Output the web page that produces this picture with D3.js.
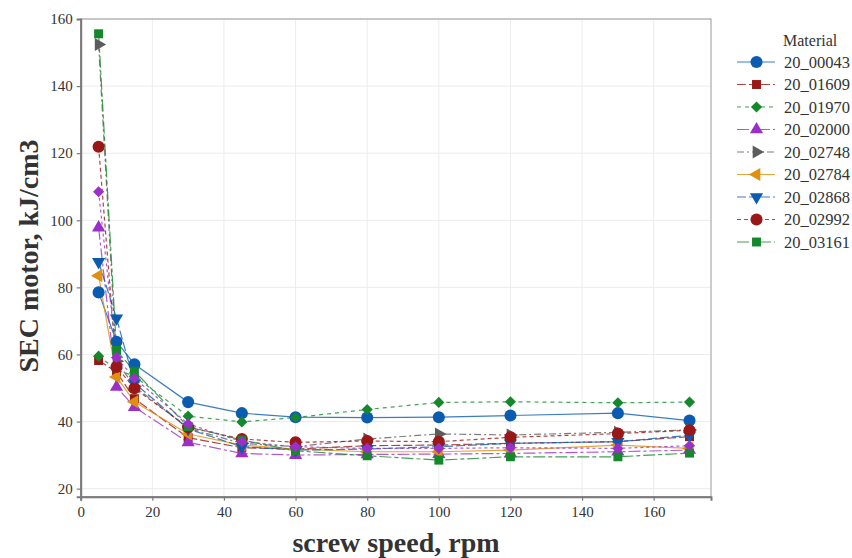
<!DOCTYPE html>
<html>
<head>
<meta charset="utf-8">
<script src="https://cdn.jsdelivr.net/npm/d3@7"></script>
<style>
  body { margin: 0; background: #fff; }
  svg text { font-family: "Liberation Serif", "Times New Roman", serif !important; }
</style>
</head>
<body>
<div id="chart"></div>
<script>
// screw speed values (x)
var speeds = [5, 10, 15, 30, 45, 60, 80, 100, 120, 150, 170];

// materials shown in the legend
var materials = ["20_00043", "20_01609", "20_01970", "20_02000", "20_02748",
                 "20_02784", "20_02868", "20_02992", "20_03161"];

// SEC motor values, kJ/cm3, one array per material
var s00043 = [78.5, 63.8, 57.1, 45.8, 42.5, 41.3, 41.2, 41.3, 41.8, 42.5, 40.3];
var s01609 = [58.2, 54.8, 46.8, 35.2, 32.2, 31.8, 32.8, 33.0, 33.5, 34.0, 35.5];
var s01970 = [59.5, 55.5, 53.5, 41.6, 39.9, 41.2, 43.6, 45.7, 45.9, 45.6, 45.8];
var s02000 = [97.8, 50.3, 44.3, 33.8, 30.5, 30.0, 30.2, 30.3, 30.5, 31.0, 31.5];
var s02748 = [152.4, 58.0, 50.5, 38.0, 33.5, 32.5, 34.8, 36.3, 36.0, 36.8, 37.5];
var s02784 = [83.5, 53.3, 45.9, 36.3, 33.0, 31.8, 31.0, 31.0, 31.5, 33.0, 32.0];
var s02868 = [87.6, 70.8, 51.5, 37.8, 32.5, 31.5, 31.8, 32.5, 33.5, 34.0, 35.9];
var s02992 = [121.9, 56.3, 49.9, 38.3, 34.8, 33.8, 34.2, 34.0, 35.3, 36.4, 37.4];
var s03161 = [155.6, 61.2, 55.0, 38.5, 34.5, 31.3, 29.8, 28.5, 29.5, 29.5, 30.6];
// tenth series drawn in the plot but missing from the legend
var sExtra = [108.5, 59.1, 52.9, 39.3, 34.0, 32.5, 32.0, 32.0, 32.2, 32.0, 32.8];

var xTicks = [0, 20, 40, 60, 80, 100, 120, 140, 160];
var yTicks = [20, 40, 60, 80, 100, 120, 140, 160];

var colors = ["#0b5cb0", "#9a1717", "#16882c", "#9b30c8", "#5c5c5c", "#e0900e",
              "#0b5cb0", "#9a1717", "#16882c", "#9b30c8"];
var dashes = ["none", "9,3", "4,4", "12,3,3,3", "7,3,2,3", "none",
              "9,3", "4,3", "12,3,4,3", "3,3"];
var shapes = ["circle", "square", "diamond", "tri-up", "tri-right", "tri-left",
              "tri-down", "circle", "square", "diamond"];

var series = [s00043, s01609, s01970, s02000, s02748, s02784, s02868, s02992, s03161, sExtra];

var svg = d3.select("#chart").append("svg")
  .attr("width", 852)
  .attr("height", 558);

var x = d3.scaleLinear().domain([0, 176]).range([80.7, 711]);
var y = d3.scaleLinear().domain([17.6, 160]).range([496.7, 19]);

// gridlines
svg.append("g").selectAll("line").data(xTicks).enter().append("line")
  .attr("x1", d => x(d)).attr("x2", d => x(d))
  .attr("y1", y(160)).attr("y2", y(17.6))
  .attr("stroke", "#ececec").attr("stroke-width", 1);
svg.append("g").selectAll("line").data(yTicks).enter().append("line")
  .attr("x1", x(0)).attr("x2", x(176))
  .attr("y1", d => y(d)).attr("y2", d => y(d))
  .attr("stroke", "#ececec").attr("stroke-width", 1);

// panel border
svg.append("rect")
  .attr("x", x(0)).attr("y", y(160))
  .attr("width", x(176) - x(0)).attr("height", y(17.6) - y(160))
  .attr("fill", "none").attr("stroke", "#9a9a9a").attr("stroke-width", 1);

// axes
var bottomAxis = d3.axisBottom(x).tickValues(xTicks).tickSize(4).tickPadding(6);
var leftAxis = d3.axisLeft(y).tickValues(yTicks).tickSize(4).tickPadding(4);

var gx = svg.append("g")
  .attr("transform", `translate(0, ${y(17.6)})`)
  .call(bottomAxis);
var gy = svg.append("g")
  .attr("transform", `translate(${x(0)}, 0)`)
  .call(leftAxis);

[gx, gy].forEach(function(g) {
  g.attr("font-family", null).attr("font-size", null);
  g.select(".domain").attr("stroke", "#7a7a7a").attr("stroke-width", 2);
  g.selectAll(".tick line").attr("stroke", "#7a7a7a").attr("stroke-width", 1.2);
  g.selectAll(".tick text")
    .attr("fill", "#333")
    .style("font-size", "15px");
});

function symbolPath(shape) {
  var t = {
    "circle": d3.symbol(d3.symbolCircle, 115),
    "square": d3.symbol(d3.symbolSquare, 80),
    "diamond": d3.symbol(d3.symbolSquare, 62),
    "tri-up": d3.symbol(d3.symbolTriangle, 75),
    "tri-right": d3.symbol(d3.symbolTriangle, 75),
    "tri-left": d3.symbol(d3.symbolTriangle, 75),
    "tri-down": d3.symbol(d3.symbolTriangle, 75)
  };
  return t[shape]();
}
function symbolRotate(shape) {
  if (shape == "diamond") return 45;
  if (shape == "tri-right") return 90;
  if (shape == "tri-left") return -90;
  if (shape == "tri-down") return 180;
  return 0;
}

var line = d3.line()
  .x((d, i) => x(speeds[i]))
  .y(d => y(d));

// lines first
series.forEach(function(vals, k) {
  svg.append("path")
    .datum(vals)
    .attr("d", line)
    .attr("fill", "none")
    .attr("stroke", colors[k])
    .attr("stroke-opacity", 0.8)
    .attr("stroke-width", 1.2)
    .attr("stroke-dasharray", dashes[k]);
});

// then points
series.forEach(function(vals, k) {
  svg.append("g").selectAll("path")
    .data(vals)
    .enter()
    .append("path")
    .attr("d", symbolPath(shapes[k]))
    .attr("transform", (d, i) => `translate(${x(speeds[i])}, ${y(d)}) rotate(${symbolRotate(shapes[k])})`)
    .attr("fill", colors[k]);
});

// axis titles
svg.append("text")
  .attr("x", 396).attr("y", 552)
  .attr("text-anchor", "middle")
  .style("font-size", "28px")
  .attr("font-weight", "bold")
  .attr("fill", "#333")
  .text("screw speed, rpm");

svg.append("text")
  .attr("transform", `translate(38, 256) rotate(-90)`)
  .attr("text-anchor", "middle")
  .style("font-size", "28px")
  .attr("font-weight", "bold")
  .attr("fill", "#333")
  .text("SEC motor, kJ/cm3");

// legend
var legend = svg.append("g").attr("transform", "translate(737, 0)");
legend.append("text")
  .attr("x", 46).attr("y", 46)
  .style("font-size", "16px")
  .attr("fill", "#333")
  .text("Material");

materials.forEach(function(m, k) {
  var ly = 62 + k * 22.5;
  legend.append("line")
    .attr("x1", 0).attr("x2", 38)
    .attr("y1", ly).attr("y2", ly)
    .attr("stroke", colors[k])
    .attr("stroke-opacity", 0.8)
    .attr("stroke-width", 1.2)
    .attr("stroke-dasharray", dashes[k]);
  legend.append("path")
    .attr("d", symbolPath(shapes[k]))
    .attr("transform", `translate(19.5, ${ly}) rotate(${symbolRotate(shapes[k])})`)
    .attr("fill", colors[k]);
  legend.append("text")
    .attr("x", 47).attr("y", ly + 5.5)
    .style("font-size", "16.5px")
    .attr("fill", "#333")
    .text(m);
});
</script>
</body>
</html>
